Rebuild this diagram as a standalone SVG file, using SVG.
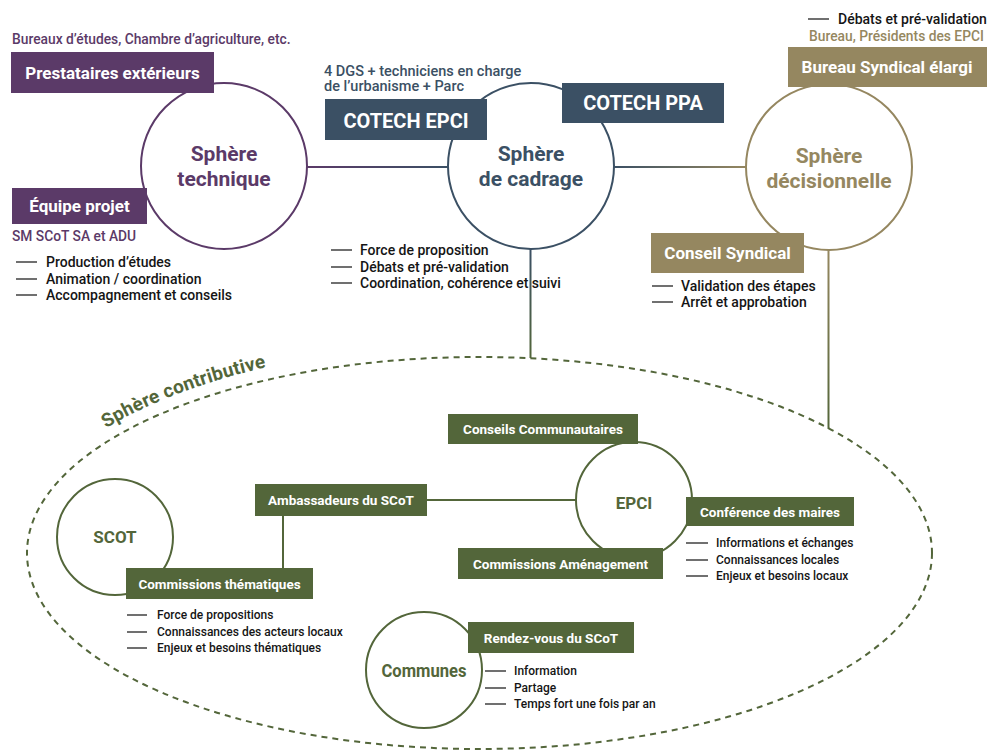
<svg xmlns="http://www.w3.org/2000/svg" width="987" height="753" viewBox="0 0 987 753">
<defs>
<style>
text{font-family:Roboto,"Liberation Sans",Arial,sans-serif}
.pu{fill:#5b3a68}.sl{fill:#3b5064}.kh{fill:#958760}.gr{fill:#53663a}
.bt{fill:#fff;font-weight:700;text-anchor:middle}
.sph{font-weight:700;font-size:21px;text-anchor:middle}
.cir{fill:#fff;stroke-width:2}
.sub{font-size:13.8px;font-weight:500}
.bul{font-size:14px;font-weight:500;fill:#151515}
.bul2{font-size:12px;font-weight:500;fill:#151515}
.dash{stroke:#222;stroke-width:1.3}
.gl{stroke:#53663a;stroke-width:2;fill:none}
</style>
<linearGradient id="g1" gradientUnits="userSpaceOnUse" x1="307" y1="0" x2="448" y2="0"><stop offset="0" stop-color="#5b3a68"/><stop offset="1" stop-color="#3b5064"/></linearGradient>
<linearGradient id="g2" gradientUnits="userSpaceOnUse" x1="614" y1="0" x2="746" y2="0"><stop offset="0" stop-color="#3b5064"/><stop offset="1" stop-color="#958760"/></linearGradient>
<linearGradient id="g3" gradientUnits="userSpaceOnUse" x1="0" y1="250" x2="0" y2="358"><stop offset="0" stop-color="#3b5064"/><stop offset="1" stop-color="#53663a"/></linearGradient>
<linearGradient id="g4" gradientUnits="userSpaceOnUse" x1="0" y1="249" x2="0" y2="430"><stop offset="0" stop-color="#958760"/><stop offset="1" stop-color="#53663a"/></linearGradient>
<path id="arcText" d="M 14 553 A 465.5 209 0 0 1 479.5 344" fill="none"/>
</defs>

<g id="connectors" fill="none">
<line x1="307" y1="167" x2="448" y2="167" stroke="url(#g1)" stroke-width="2"/>
<line x1="614" y1="167" x2="746" y2="167" stroke="url(#g2)" stroke-width="2"/>
<line x1="530.5" y1="249" x2="530.5" y2="358" stroke="url(#g3)" stroke-width="2"/>
<line x1="828.5" y1="249" x2="828.5" y2="429" stroke="url(#g4)" stroke-width="2"/>
<line x1="427" y1="500" x2="577" y2="500" class="gl"/>
<line x1="283" y1="516" x2="283" y2="568" class="gl"/>
</g>

<g id="sphere-contributive">
<ellipse cx="479.5" cy="553" rx="452.5" ry="196" fill="none" stroke="#53663a" stroke-width="2" stroke-dasharray="6 5"/>
<text font-size="19" font-weight="700" class="gr"><textPath href="#arcText" startOffset="162" textLength="172">Sphère contributive</textPath></text>
</g>

<g id="sphere-technique">
<circle cx="224" cy="166" r="83" class="cir" stroke="#5b3a68"/>
<text x="224" y="160.5" class="sph pu">Sphère</text>
<text x="224" y="185.5" class="sph pu">technique</text>
</g>
<g id="prestataires">
<text x="12" y="43.5" class="sub pu">Bureaux d’études, Chambre d’agriculture, etc.</text>
<rect x="11" y="52" width="203" height="41" class="pu"/>
<text x="112.5" y="78.5" font-size="17" class="bt">Prestataires extérieurs</text>
</g>
<g id="equipe-projet">
<rect x="12" y="188" width="135" height="36" class="pu"/>
<text x="79.5" y="212" font-size="17" class="bt">Équipe projet</text>
<text x="12" y="240.5" class="sub pu">SM SCoT SA et ADU</text>
<line x1="16" y1="262" x2="37" y2="262" class="dash"/>
<line x1="16" y1="279" x2="37" y2="279" class="dash"/>
<line x1="16" y1="295" x2="37" y2="295" class="dash"/>
<text x="46" y="266.5" class="bul">Production d’études</text>
<text x="46" y="283.5" class="bul">Animation / coordination</text>
<text x="46" y="299.5" class="bul">Accompagnement et conseils</text>
</g>

<g id="sphere-cadrage">
<circle cx="531" cy="166" r="83" class="cir" stroke="#3b5064"/>
<text x="531" y="160.5" class="sph sl">Sphère</text>
<text x="531" y="185.5" class="sph sl">de cadrage</text>
<line x1="331" y1="250" x2="352" y2="250" class="dash"/>
<line x1="331" y1="267" x2="352" y2="267" class="dash"/>
<line x1="331" y1="283" x2="352" y2="283" class="dash"/>
<text x="360" y="254.5" class="bul">Force de proposition</text>
<text x="360" y="271.5" class="bul">Débats et pré-validation</text>
<text x="360" y="287.5" class="bul">Coordination, cohérence et suivi</text>
</g>
<g id="cotech-epci">
<text x="324" y="75.5" class="sub sl" style="font-size:14.5px">4 DGS + techniciens en charge</text>
<text x="324" y="91" class="sub sl" style="font-size:14.5px">de l’urbanisme + Parc</text>
<rect x="325" y="99" width="162" height="41" class="sl"/>
<text x="406" y="127.5" font-size="20" class="bt">COTECH EPCI</text>
</g>
<g id="cotech-ppa">
<rect x="562" y="83" width="162" height="40" class="sl"/>
<text x="643" y="110" font-size="20" class="bt">COTECH PPA</text>
</g>

<g id="sphere-decisionnelle">
<circle cx="829" cy="167" r="83" class="cir" stroke="#958760"/>
<text x="829" y="162.5" class="sph kh">Sphère</text>
<text x="829" y="187.5" class="sph kh">décisionnelle</text>
</g>
<g id="bureau-syndical">
<line x1="808" y1="19" x2="829" y2="19" class="dash"/>
<text x="838" y="23.5" class="bul">Débats et pré-validation</text>
<text x="809" y="40.5" class="sub kh">Bureau, Présidents des EPCI</text>
<rect x="788" y="47" width="199" height="40" class="kh"/>
<text x="887" y="73" font-size="17" class="bt">Bureau Syndical élargi</text>
</g>
<g id="conseil-syndical">
<rect x="651" y="233" width="153" height="40" class="kh"/>
<text x="727.5" y="259" font-size="17" class="bt">Conseil Syndical</text>
<line x1="652" y1="286" x2="673" y2="286" class="dash"/>
<line x1="652" y1="302" x2="673" y2="302" class="dash"/>
<text x="681" y="290.5" class="bul">Validation des étapes</text>
<text x="681" y="306.5" class="bul">Arrêt et approbation</text>
</g>

<g id="scot">
<circle cx="115" cy="537" r="58" class="cir" stroke="#53663a"/>
<text x="115" y="543" font-size="17" font-weight="700" text-anchor="middle" class="gr">SCOT</text>
</g>
<g id="commissions-thematiques">
<rect x="126" y="568" width="187" height="31" class="gr"/>
<text x="219.5" y="588.5" font-size="13.5" class="bt">Commissions thématiques</text>
<line x1="127" y1="615" x2="147" y2="615" class="dash"/>
<line x1="127" y1="632" x2="147" y2="632" class="dash"/>
<line x1="127" y1="648" x2="147" y2="648" class="dash"/>
<text x="157" y="619" class="bul2">Force de propositions</text>
<text x="157" y="636" class="bul2">Connaissances des acteurs locaux</text>
<text x="157" y="652" class="bul2">Enjeux et besoins thématiques</text>
</g>
<g id="ambassadeurs">
<rect x="255" y="484" width="172" height="32" class="gr"/>
<text x="341" y="505" font-size="13.5" class="bt">Ambassadeurs du SCoT</text>
</g>
<g id="epci">
<circle cx="634" cy="500" r="58" class="cir" stroke="#53663a"/>
<text x="634" y="509" font-size="17" font-weight="700" text-anchor="middle" class="gr">EPCI</text>
</g>
<g id="conseils-communautaires">
<rect x="448" y="414" width="190" height="30" class="gr"/>
<text x="543" y="434" font-size="13.5" class="bt">Conseils Communautaires</text>
</g>
<g id="conference-maires">
<rect x="686" y="497" width="168" height="29" class="gr"/>
<text x="770" y="516.5" font-size="13.5" class="bt">Conférence des maires</text>
<line x1="686" y1="543" x2="708" y2="543" class="dash"/>
<line x1="686" y1="560" x2="708" y2="560" class="dash"/>
<line x1="686" y1="576" x2="708" y2="576" class="dash"/>
<text x="716" y="547" class="bul2">Informations et échanges</text>
<text x="716" y="564" class="bul2">Connaissances locales</text>
<text x="716" y="580" class="bul2">Enjeux et besoins locaux</text>
</g>
<g id="commissions-amenagement">
<rect x="458" y="548" width="205" height="31" class="gr"/>
<text x="560.5" y="568.5" font-size="13.5" class="bt">Commissions Aménagement</text>
</g>
<g id="communes">
<circle cx="424" cy="670" r="58" class="cir" stroke="#53663a"/>
<text x="424" y="677" font-size="19" font-weight="700" text-anchor="middle" class="gr" textLength="85" lengthAdjust="spacingAndGlyphs">Communes</text>
</g>
<g id="rendez-vous">
<rect x="468" y="622" width="166" height="31" class="gr"/>
<text x="551" y="642.5" font-size="13.5" class="bt">Rendez-vous du SCoT</text>
<line x1="485" y1="671" x2="506" y2="671" class="dash"/>
<line x1="485" y1="688" x2="506" y2="688" class="dash"/>
<line x1="485" y1="704" x2="506" y2="704" class="dash"/>
<text x="514" y="675" class="bul2">Information</text>
<text x="514" y="692" class="bul2">Partage</text>
<text x="514" y="708" class="bul2">Temps fort une fois par an</text>
</g>
</svg>
